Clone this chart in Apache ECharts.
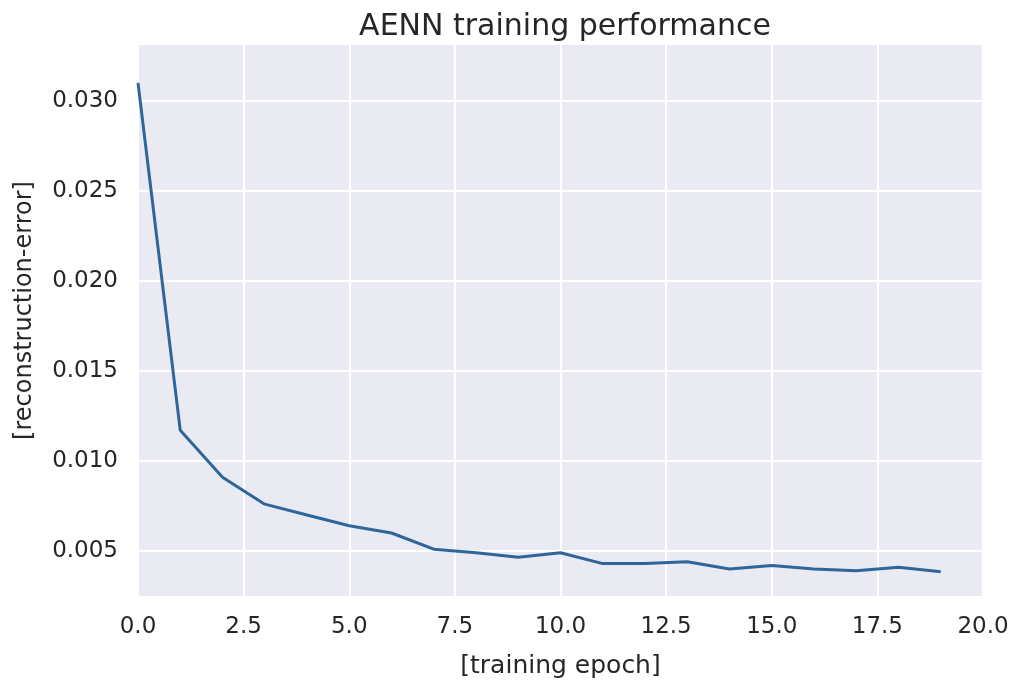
<!DOCTYPE html>
<html>
<head>
<meta charset="utf-8">
<script src="https://cdn.jsdelivr.net/npm/echarts@6/dist/echarts.min.js"></script>
<style>
html,body{margin:0;padding:0;background:#fff;}
#chart{width:1015px;height:684px;}
</style>
</head>
<body>
<div id="chart"></div>
<script>
const epochs = [0,1,2,3,4,5,6,7,8,9,10,11,12,13,14,15,16,17,18,19];
const reconError = [0.0310,0.0117,0.0091,0.0076,0.0070,0.0064,0.0060,0.0051,0.0049,0.00465,0.0049,0.0043,0.0043,0.0044,0.0040,0.0042,0.0040,0.0039,0.0041,0.00385];
const yTicks = [0.005,0.010,0.015,0.020,0.025,0.030];
const xTicks = [0,2.5,5,7.5,10,12.5,15,17.5,20];

const chart = echarts.init(document.getElementById('chart'), null, {renderer:'canvas'});
const txt = '#262626';
const font = 'DejaVu Sans';
chart.setOption({
  backgroundColor:'#ffffff',
  animation:false,
  title:{
    text:'AENN training performance',
    left:560, top:7, textAlign:'center',
    textStyle:{fontFamily:font,fontSize:30,fontWeight:'normal',color:txt}
  },
  grid:{left:138,right:32,top:45,bottom:87,show:true,backgroundColor:'#EAEAF2',borderWidth:0},
  xAxis:{
    type:'value', min:0, max:20, interval:2.5,
    name:'[training epoch]', nameLocation:'middle', nameGap:58,
    nameTextStyle:{fontFamily:font,fontSize:25,color:txt},
    axisLine:{show:false}, axisTick:{show:false},
    axisLabel:{fontFamily:font,fontSize:23,color:txt,margin:20,formatter:v=>v.toFixed(1)},
    splitLine:{show:true,lineStyle:{color:'#ffffff',width:2}}
  },
  yAxis:{
    type:'value', min:0.0025, max:0.0331,
    name:'[reconstruction-error]', nameLocation:'middle', nameGap:101, nameRotate:90,
    nameTextStyle:{fontFamily:font,fontSize:24,color:txt,padding:[0,0,0,20]},
    axisLine:{show:false},
    axisTick:{show:false,customValues:yTicks},
    axisLabel:{fontFamily:font,fontSize:23,color:txt,margin:20,customValues:yTicks,formatter:v=>v.toFixed(3)},
    splitLine:{show:true,lineStyle:{color:'#ffffff',width:2}}
  },
  series:[{
    type:'line',
    data:epochs.map((e,i)=>[e,reconError[i]]),
    showSymbol:false,
    lineStyle:{color:'#2f6699',width:3},
    itemStyle:{color:'#2f6699'}
  }]
});
</script>
</body>
</html>
